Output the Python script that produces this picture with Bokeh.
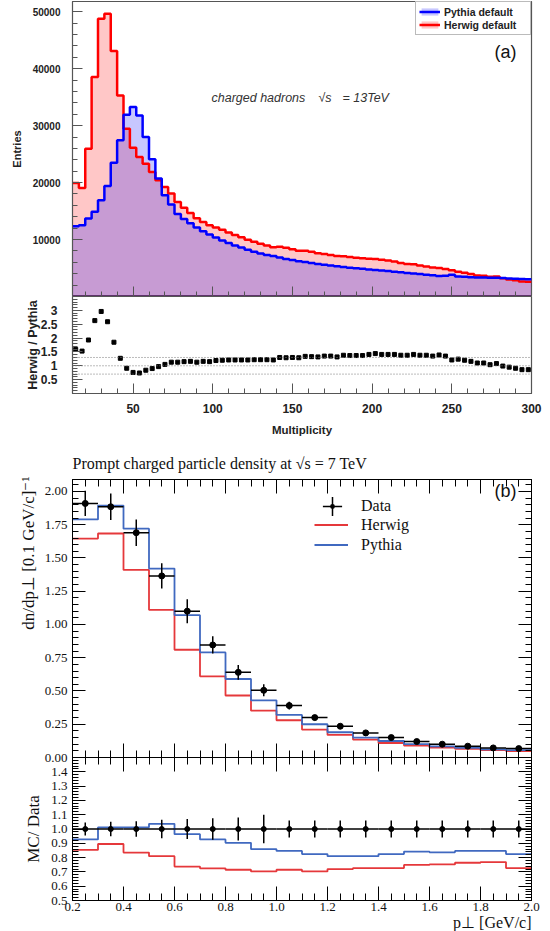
from bokeh.plotting import figure
from bokeh.models import (LinearAxis, FixedTicker, Range1d, Span, Legend, LegendItem,
                          Label, Title, PrintfTickFormatter, CustomJSTickFormatter,
                          CustomLabelingPolicy)
from bokeh.layouts import column
from bokeh.embed import file_html
from bokeh.resources import INLINE

# ---------------- panel (a): charged hadron multiplicity, sqrt(s)=13 TeV ----------------
mult_edges = list(range(12, 301, 4))
pythia_counts = [12330, 12510, 13680, 14860, 16890, 19420, 23500, 27420, 31920, 33270,
                 31800, 28010, 24080, 20700, 17770, 16140, 14500, 13600, 12850, 12100,
                 11450, 10900, 10350, 9850, 9400, 8950, 8600, 8200, 7850, 7550,
                 7300, 7100, 6850, 6600, 6400, 6200, 6050, 5900, 5720, 5580,
                 5450, 5320, 5180, 5050, 4950, 4880, 4760, 4660, 4580, 4480,
                 4360, 4250, 4120, 4030, 3930, 3800, 3740, 3600, 3650, 3800,
                 3520, 3450, 3400, 3340, 3330, 3290, 3280, 3230, 3170, 3130,
                 3080, 3030]
herwig_counts = [19940, 19060, 25960, 38530, 48760, 49640, 43100, 35310, 29470, 26140,
                 24500, 23330, 21870, 20400, 19240, 18070, 16600, 15600, 14650, 13750,
                 13100, 12500, 12100, 11700, 11250, 10800, 10400, 9950, 9600, 9250,
                 8950, 8650, 8750, 8550, 8300, 8050, 8050, 7850, 7600, 7450,
                 7300, 7100, 7050, 6950, 6800, 6700, 6650, 6600, 6450, 6300,
                 6150, 5900, 5700, 5650, 5450, 5250, 5100, 5000, 4850, 4600,
                 4350, 4150, 3950, 3700, 3650, 3450, 3500, 3200, 3000, 2850,
                 2650, 2580]
ratio_herwig_pythia = [1.59, 1.53, 1.93, 2.63, 2.96, 2.59, 1.85, 1.27, 0.91, 0.76,
                       0.74, 0.84, 0.90, 0.97, 1.05, 1.13, 1.13, 1.15, 1.16, 1.13,
                       1.16, 1.15, 1.19, 1.20, 1.21, 1.21, 1.21, 1.21, 1.22, 1.22,
                       1.22, 1.21, 1.30, 1.29, 1.30, 1.29, 1.34, 1.33, 1.32, 1.35,
                       1.35, 1.32, 1.38, 1.37, 1.37, 1.37, 1.41, 1.44, 1.41, 1.41,
                       1.41, 1.38, 1.38, 1.41, 1.38, 1.38, 1.35, 1.39, 1.35, 1.21,
                       1.24, 1.20, 1.16, 1.10, 1.10, 1.04, 1.08, 0.99, 0.95, 0.91,
                       0.86, 0.86]
ratio_ref_lines = [0.7, 1.0, 1.3]
mult_major_ticks = [50, 100, 150, 200, 250, 300]
mult_minor_ticks = list(range(20, 300, 10))
entries_major_ticks = [10000, 20000, 30000, 40000, 50000]
entries_minor_ticks = list(range(2000, 51000, 2000))
ratio_a_major_ticks = [0.5, 1.0, 1.5, 2.0, 2.5, 3.0]
ratio_a_minor_ticks = [i / 10 for i in range(1, 35)]

# ---------------- panel (b): prompt charged particle density, sqrt(s)=7 TeV ----------------
pt_edges = [0.2, 0.3, 0.4, 0.5, 0.6, 0.7, 0.8, 0.9, 1.0, 1.1,
            1.2, 1.3, 1.4, 1.5, 1.6, 1.7, 1.8, 1.9, 2.0]
data_dens = [1.91, 1.885, 1.69, 1.365, 1.10, 0.846, 0.64, 0.505, 0.39,
             0.30, 0.235, 0.185, 0.15, 0.12, 0.10, 0.085, 0.072, 0.067]
data_err = [0.095, 0.10, 0.10, 0.095, 0.09, 0.065, 0.055, 0.045, 0.03,
            0.02, 0.015, 0.012, 0.01, 0.008, 0.006, 0.005, 0.004, 0.004]
herwig_dens = [1.646, 1.684, 1.41, 1.11, 0.81, 0.61, 0.466, 0.352, 0.28,
               0.21, 0.17, 0.135, 0.109, 0.09, 0.075, 0.065, 0.055, 0.049]
pythia_dens = [1.79, 1.894, 1.72, 1.42, 1.07, 0.79, 0.59, 0.43, 0.32,
               0.25, 0.19, 0.15, 0.124, 0.10, 0.084, 0.072, 0.061, 0.055]
mcdata_herwig = [0.854, 0.895, 0.835, 0.810, 0.737, 0.725, 0.715, 0.703, 0.715,
                 0.703, 0.720, 0.727, 0.727, 0.749, 0.752, 0.764, 0.769, 0.727]
mcdata_pythia = [0.927, 1.012, 1.012, 1.036, 0.964, 0.927, 0.903, 0.859, 0.847,
                 0.825, 0.810, 0.810, 0.825, 0.842, 0.837, 0.847, 0.847, 0.825]
mcdata_err = [0.045, 0.05, 0.055, 0.065, 0.07, 0.075, 0.08, 0.10, 0.06,
              0.06, 0.06, 0.06, 0.06, 0.06, 0.06, 0.06, 0.06, 0.06]
pt_major_ticks = [0.2, 0.4, 0.6, 0.8, 1.0, 1.2, 1.4, 1.6, 1.8, 2.0]
pt_minor_ticks = [round(0.2 + 0.05 * i, 2) for i in range(37)]
dens_major_ticks = [0.0, 0.25, 0.5, 0.75, 1.0, 1.25, 1.5, 1.75, 2.0]
dens_minor_ticks = [round(0.05 * i, 2) for i in range(42)]
mcd_major_ticks = [0.5, 0.6, 0.7, 0.8, 0.9, 1.0, 1.1, 1.2, 1.3, 1.4]
mcd_minor_ticks = [round(0.5 + 0.02 * i, 2) for i in range(51)]

W = 550
SANS = "Liberation Sans"
SERIF = "Liberation Serif"
RED_A, BLUE_A = "#ff0000", "#0000ff"
RED_B, BLUE_B = "#e5383b", "#4069c0"
FRAME_A = "#555555"


def step_xy(edges, vals):
    xs, ys = [], []
    for i, v in enumerate(vals):
        xs += [edges[i], edges[i + 1]]
        ys += [v, v]
    return xs, ys


def ticks_style(ax, major_in, minor_in, color):
    ax.major_tick_in = major_in
    ax.major_tick_out = 0
    ax.minor_tick_in = minor_in
    ax.minor_tick_out = 0
    ax.axis_line_color = color
    ax.major_tick_line_color = color
    ax.minor_tick_line_color = color


def no_labels(ax):
    ax.major_label_text_font_size = "0px"
    ax.major_label_standoff = 0
    ax.major_label_policy = CustomLabelingPolicy(
        code="for (const i of indices) { if (i < 0) { yield i } }")
    ax.axis_label = None


def base_fig(height, xr, yr, top, bottom):
    p = figure(width=W, height=height, x_range=xr, y_range=yr,
               output_backend="svg", toolbar_location=None,
               min_border_left=72, min_border_right=19,
               min_border_top=top, min_border_bottom=bottom)
    p.grid.visible = False
    p.background_fill_color = "white"
    p.border_fill_color = "white"
    return p


# ===== (a) upper: histograms =====
p1 = base_fig(296, Range1d(12, 300), Range1d(0, 51800), 1, 0)
p1.outline_line_color = FRAME_A
p1.outline_line_width = 1.2
hx, hy = step_xy(mult_edges, herwig_counts)
px_, py_ = step_xy(mult_edges, pythia_counts)
r_hf = p1.patch(hx + [mult_edges[-1], mult_edges[0]], hy + [0, 0],
                fill_color=RED_A, fill_alpha=0.22, line_color=None)
r_pf = p1.patch(px_ + [mult_edges[-1], mult_edges[0]], py_ + [0, 0],
                fill_color=BLUE_A, fill_alpha=0.22, line_color=None)
r_hl = p1.line(hx, hy, line_color=RED_A, line_width=2.5)
r_pl = p1.line(px_, py_, line_color=BLUE_A, line_width=2.5)

xa = p1.xaxis[0]
xa.ticker = FixedTicker(ticks=mult_major_ticks, minor_ticks=mult_minor_ticks)
ticks_style(xa, 10, 5, FRAME_A)
no_labels(xa)
ya = p1.yaxis[0]
ya.ticker = FixedTicker(ticks=entries_major_ticks, minor_ticks=entries_minor_ticks)
ticks_style(ya, 10, 5, FRAME_A)
ya.major_label_text_font = SANS
ya.major_label_text_font_style = "bold"
ya.major_label_text_font_size = "10px"
ya.major_label_text_color = "#222222"
ya.major_label_standoff = 12
ya.axis_label = "Entries"
ya.axis_label_text_font = SANS
ya.axis_label_text_font_style = "bold"
ya.axis_label_text_font_size = "11px"
ya.axis_label_text_color = "#222222"
ya.axis_label_standoff = 7

leg_a = Legend(items=[LegendItem(label="Pythia default", renderers=[r_pf, r_pl]),
                      LegendItem(label="Herwig default", renderers=[r_hf, r_hl])],
               location="top_right", margin=0, padding=3, spacing=0,
               glyph_width=21, glyph_height=9, label_height=13, label_width=83,
               label_standoff=4, label_text_font=SANS, label_text_font_size="10.5px",
               label_text_font_style="bold", label_text_color="#222222",
               border_line_color="#777777", border_line_width=1,
               background_fill_color="white", background_fill_alpha=1.0)
p1.add_layout(leg_a)
p1.add_layout(Label(x=444, y=245, x_units="screen", y_units="screen", text="(a)",
                    text_font=SANS, text_font_size="18px", text_align="right",
                    text_baseline="middle", text_color="#111111"))
for tx, txt in ((139, "charged hadrons"), (246, "√s"), (270, "= 13TeV")):
    p1.add_layout(Label(x=tx, y=199, x_units="screen", y_units="screen", text=txt,
                        text_font=SANS, text_font_style="italic", text_font_size="12.5px",
                        text_align="left", text_baseline="middle", text_color="#333333"))

# ===== (a) lower: ratio =====
p2 = base_fig(144, Range1d(12, 300), Range1d(0, 3.5), 0, 47)
p2.outline_line_color = FRAME_A
p2.outline_line_width = 1.2
for v in ratio_ref_lines:
    p2.add_layout(Span(location=v, dimension="width", line_color="#777777",
                       line_dash="1 2", line_width=1))
mult_centers = [(mult_edges[i] + mult_edges[i + 1]) / 2 for i in range(len(ratio_herwig_pythia))]
p2.scatter(mult_centers, ratio_herwig_pythia, marker="square", size=4,
           fill_color="black", line_color="black")
xa = p2.xaxis[0]
xa.ticker = FixedTicker(ticks=mult_major_ticks, minor_ticks=mult_minor_ticks)
ticks_style(xa, 10, 5, FRAME_A)
xa.major_label_text_font = SANS
xa.major_label_text_font_style = "bold"
xa.major_label_text_font_size = "12px"
xa.major_label_text_color = "#222222"
xa.major_label_standoff = 10
xa.axis_label = "Multiplicity"
xa.axis_label_text_font = SANS
xa.axis_label_text_font_style = "bold"
xa.axis_label_text_font_size = "11.5px"
xa.axis_label_text_color = "#222222"
xa.axis_label_standoff = 8
ya = p2.yaxis[0]
ya.ticker = FixedTicker(ticks=ratio_a_major_ticks, minor_ticks=ratio_a_minor_ticks)
ya.formatter = CustomJSTickFormatter(code="return String(Math.round(tick*10)/10)")
ticks_style(ya, 10, 5, FRAME_A)
ya.major_label_text_font = SANS
ya.major_label_text_font_style = "bold"
ya.major_label_text_font_size = "12px"
ya.major_label_text_color = "#222222"
ya.major_label_standoff = 15
ya.axis_label = "Herwig / Pythia"
ya.axis_label_text_font = SANS
ya.axis_label_text_font_style = "bold"
ya.axis_label_text_font_size = "12.5px"
ya.axis_label_text_color = "#222222"
ya.axis_label_standoff = -2

# ===== (b) upper: density =====
# canvas 440..765, frame 479..757
p3 = base_fig(325, Range1d(0.2, 2.0), Range1d(0, 2.09), 39, 8)
p3.outline_line_color = "black"
p3.title.text = "Prompt charged particle density at √s = 7 TeV"
p3.title.align = "left"
p3.title.offset = 0
p3.title.standoff = 16
p3.title.text_font = SERIF
p3.title.text_font_style = "normal"
p3.title.text_font_size = "16px"
p3.title.text_color = "#111111"

hbx, hby = step_xy(pt_edges, herwig_dens)
pbx, pby = step_xy(pt_edges, pythia_dens)
r_h = p3.line(hbx, hby, line_color=RED_B, line_width=1.8)
r_p = p3.line(pbx, pby, line_color=BLUE_B, line_width=1.8)
pt_lo = pt_edges[:-1]
pt_hi = pt_edges[1:]
pt_c = [(a + b) / 2 for a, b in zip(pt_lo, pt_hi)]
p3.segment(x0=pt_lo, y0=data_dens, x1=pt_hi, y1=data_dens, line_color="black", line_width=1.5)
p3.segment(x0=pt_c, y0=[d - e for d, e in zip(data_dens, data_err)],
           x1=pt_c, y1=[d + e for d, e in zip(data_dens, data_err)],
           line_color="black", line_width=1.5)
p3.scatter(pt_c, data_dens, marker="circle", size=6, fill_color="black", line_color="black")
# zero-size markers at the data points: they only supply the "Data" legend symbol
r_cross = p3.scatter(pt_c, data_dens, marker="cross", size=0, line_color="black", line_width=1.5)
r_dot = p3.scatter(pt_c, data_dens, marker="dot", size=0, line_color="black", line_width=2.5)

xa = p3.xaxis[0]
xa.ticker = FixedTicker(ticks=pt_major_ticks, minor_ticks=pt_minor_ticks)
ticks_style(xa, 14, 7, "black")
no_labels(xa)
top_ax = LinearAxis(ticker=FixedTicker(ticks=pt_major_ticks, minor_ticks=pt_minor_ticks))
ticks_style(top_ax, 14, 7, "black")
no_labels(top_ax)
p3.add_layout(top_ax, "above")
ya = p3.yaxis[0]
ya.ticker = FixedTicker(ticks=dens_major_ticks, minor_ticks=dens_minor_ticks)
ya.formatter = PrintfTickFormatter(format="%.2f")
ticks_style(ya, 13, 6, "black")
ya.major_label_text_font = SERIF
ya.major_label_text_font_size = "13px"
ya.major_label_text_color = "#111111"
ya.major_label_standoff = 5
ya.axis_label = None
right_ax = LinearAxis(ticker=FixedTicker(ticks=dens_major_ticks, minor_ticks=dens_minor_ticks))
ticks_style(right_ax, 13, 6, "black")
no_labels(right_ax)
p3.add_layout(right_ax, "right")
# y-axis title, aligned to the top of the frame (ROOT/Rivet style)
p3.add_layout(Title(text="dn/dp⊥ [0.1 GeV/c]⁻¹", align="right", offset=0, standoff=8,
                    text_font=SERIF, text_font_size="17px", text_font_style="normal",
                    text_color="#111111"), "left")

leg_d = Legend(items=[LegendItem(label="Data", renderers=[r_cross, r_dot])],
               location=(236, 227), margin=0, padding=0, spacing=0,
               glyph_width=48, glyph_height=48, label_height=48, label_standoff=5,
               label_text_font=SERIF, label_text_font_size="16px", label_text_color="#111111",
               border_line_color=None, background_fill_alpha=0)
leg_b = Legend(items=[LegendItem(label="Herwig", renderers=[r_h]),
                      LegendItem(label="Pythia", renderers=[r_p])],
               location=(242, 203), margin=0, padding=0, spacing=1,
               glyph_width=34, glyph_height=19, label_height=19, label_standoff=13,
               label_text_font=SERIF, label_text_font_size="16px", label_text_color="#111111",
               border_line_color=None, background_fill_alpha=0)
p3.add_layout(leg_d)
p3.add_layout(leg_b)
p3.add_layout(Label(x=444, y=267, x_units="screen", y_units="screen", text="(b)",
                    text_font=SANS, text_font_size="18px", text_align="right",
                    text_baseline="middle", text_color="#111111"))

# ===== (b) lower: MC / Data =====
# pulled up 8 px over the upper figure's bottom border: canvas 757..931, frame 757..~900
p4 = base_fig(174, Range1d(0.2, 2.0), Range1d(0.5, 1.5), 0, 31)
p4.margin = (-8, 0, 0, 0)
p4.border_fill_alpha = 0
p4.outline_line_color = "black"
rhx, rhy = step_xy(pt_edges, mcdata_herwig)
rpx, rpy = step_xy(pt_edges, mcdata_pythia)
p4.line(rhx, rhy, line_color=RED_B, line_width=1.8)
p4.line(rpx, rpy, line_color=BLUE_B, line_width=1.8)
ones = [1.0] * len(pt_c)
p4.segment(x0=pt_lo, y0=ones, x1=pt_hi, y1=ones, line_color="black", line_width=1.5)
p4.segment(x0=pt_c, y0=[1 - e for e in mcdata_err], x1=pt_c, y1=[1 + e for e in mcdata_err],
           line_color="black", line_width=1.5)
p4.scatter(pt_c, ones, marker="circle", size=5, fill_color="black", line_color="black")

xa = p4.xaxis[0]
xa.ticker = FixedTicker(ticks=pt_major_ticks, minor_ticks=pt_minor_ticks)
xa.formatter = PrintfTickFormatter(format="%.1f")
ticks_style(xa, 14, 7, "black")
xa.major_label_text_font = SERIF
xa.major_label_text_font_size = "13px"
xa.major_label_text_color = "#111111"
xa.major_label_standoff = 2
xa.axis_label = None
top_ax2 = LinearAxis(ticker=FixedTicker(ticks=pt_major_ticks, minor_ticks=pt_minor_ticks))
ticks_style(top_ax2, 14, 7, "black")
no_labels(top_ax2)
p4.add_layout(top_ax2, "above")
ya = p4.yaxis[0]
ya.ticker = FixedTicker(ticks=mcd_major_ticks, minor_ticks=mcd_minor_ticks)
ya.formatter = PrintfTickFormatter(format="%.1f")
ticks_style(ya, 13, 6, "black")
ya.major_label_text_font = SERIF
ya.major_label_text_font_size = "13px"
ya.major_label_text_color = "#111111"
ya.major_label_standoff = 5
ya.axis_label = "MC/ Data"
ya.axis_label_text_font = SERIF
ya.axis_label_text_font_style = "normal"
ya.axis_label_text_font_size = "17px"
ya.axis_label_text_color = "#111111"
ya.axis_label_standoff = 5
right_ax2 = LinearAxis(ticker=FixedTicker(ticks=mcd_major_ticks, minor_ticks=mcd_minor_ticks))
ticks_style(right_ax2, 13, 6, "black")
no_labels(right_ax2)
p4.add_layout(right_ax2, "right")
# x-axis title, right-aligned to the end of the axis
p4.add_layout(Title(text="p⊥ [GeV/c]", align="right", offset=0, standoff=-3,
                    text_font=SERIF, text_font_size="16px", text_font_style="normal",
                    text_color="#111111"), "below")

layout = column(p1, p2, p3, p4, spacing=0)
open("out.html", "w").write(file_html(layout, INLINE))
